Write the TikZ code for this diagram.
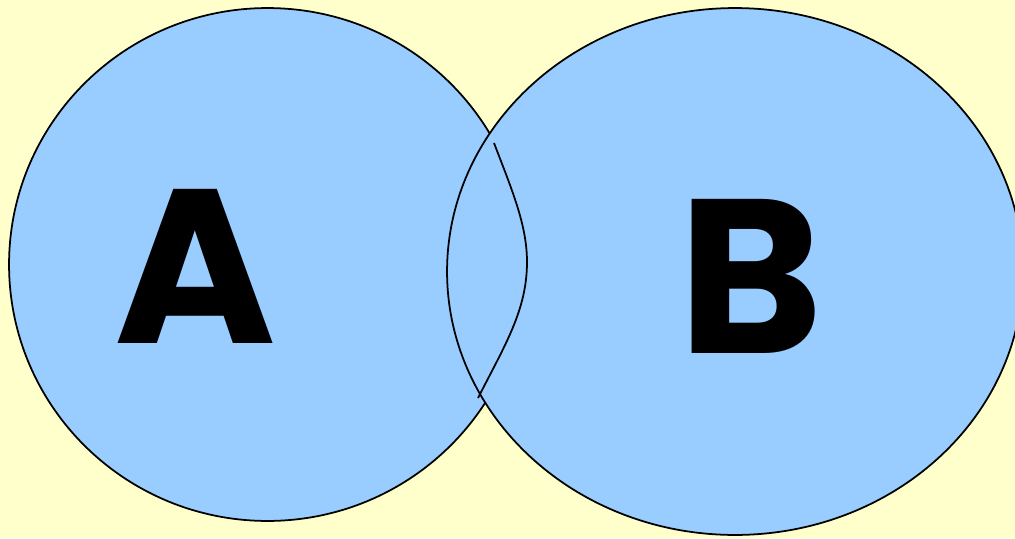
\documentclass[tikz,border=0pt]{standalone}
\usepackage{fontspec}
\setmainfont{Poppins}
\usetikzlibrary{shapes.geometric}
\definecolor{paper}{RGB}{255,255,204}
\definecolor{setfill}{RGB}{153,204,255}

\begin{document}
\begin{tikzpicture}[
    x=0.02cm,y=-0.02cm,
    setbox/.style={ellipse,draw=black,fill=setfill,line width=1pt,inner sep=0pt},
    setlabel/.style={font=\fontsize{125}{125}\selectfont\bfseries,inner sep=0pt},
    rim/.style={draw=black,line width=1pt}
  ]
    \fill[paper] (0,0) rectangle (1015,538);
    \useasboundingbox (0,0) rectangle (1015,538);
    \begin{scope}
    \clip (0,0) rectangle (1015,538);
    \node[setbox,minimum width=10.34cm,minimum height=10.26cm] (setA) at (267.5,264.5) {};
    \node[setbox,minimum width=11.52cm,minimum height=10.54cm] (setB) at (735,271.5) {};
    \end{scope}
    % arc of A inside the overlap
    \coordinate (lensTop) at (494,143);
    \coordinate (lensBot) at (478,398);
    \draw[rim] (lensTop) .. controls (512,190) and (527,225) .. (527,262)
      .. controls (527,310) and (505,345) .. (lensBot);
    \node[setlabel] (labelA) at (195,266) {A};
    \node[setlabel] (labelB) at (751,276) {B};
  \end{tikzpicture}
\end{document}
